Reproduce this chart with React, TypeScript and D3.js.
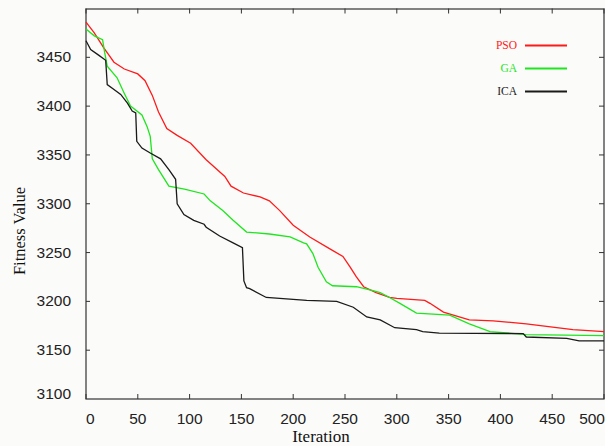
import React, { useRef, useEffect } from "react";
import * as d3 from "d3";

// axis ticks
const iterationTicks = [0, 50, 100, 150, 200, 250, 300, 350, 400, 450, 500];
const fitnessTicks = [3100, 3150, 3200, 3250, 3300, 3350, 3400, 3450];

// PSO convergence curve
const psoIter = [0, 8, 17, 27, 37, 50, 57, 64, 70, 78, 88, 101, 116, 134, 140, 152, 168, 177, 187, 200, 216, 235, 248, 255, 261, 268, 280, 293, 300, 327, 332, 345, 370, 393, 425, 470, 500];
const psoFit = [3486, 3475, 3460, 3445, 3438, 3433, 3426, 3411, 3394, 3377, 3370, 3362, 3345, 3328, 3318, 3311, 3307, 3303, 3293, 3278, 3266, 3254, 3246, 3235, 3225, 3215, 3209, 3204, 3203, 3201, 3198, 3189, 3181, 3180, 3177, 3171, 3169];

// GA convergence curve
const gaIter = [0, 8, 16, 18, 20.5, 30, 37, 43, 54, 59, 62, 64, 70, 80, 95, 114, 120, 132, 142, 155, 177, 197, 210, 213, 219, 224, 232, 238, 261, 277, 284, 293, 303, 319, 351, 370, 390, 425, 500];
const gaFit = [3479, 3472, 3468, 3455, 3441, 3429, 3413, 3400, 3391, 3379, 3369, 3346, 3335, 3318, 3315, 3310, 3303, 3293, 3283, 3271, 3269, 3266, 3260, 3259, 3249, 3235, 3220, 3216, 3215, 3211, 3209, 3204, 3198, 3188, 3186, 3177, 3169, 3166, 3165];

// ICA convergence curve
const icaIter = [0, 4.5, 12.5, 19, 20.5, 27, 33.5, 40, 44.6, 48, 49, 54, 62, 72, 80, 86.5, 88, 94.5, 104, 114, 116, 129, 142, 151, 152.4, 155, 158, 174, 213, 242, 258, 271, 284, 298, 319, 325, 341, 422, 425, 464, 476, 500];
const icaFit = [3467, 3458, 3452, 3447, 3422, 3417, 3412, 3403, 3395, 3393, 3364, 3357, 3352, 3346, 3335, 3325, 3300, 3289, 3283, 3279, 3276, 3267, 3260, 3255, 3221, 3214, 3213, 3204, 3201, 3200, 3194, 3184, 3181, 3173, 3171, 3169, 3167.5, 3167, 3163.5, 3162, 3159.5, 3159.5];

const seriesNames = ["PSO", "GA", "ICA"];

export default function App() {
  const ref = useRef<SVGSVGElement>(null);

  useEffect(() => {
    const width = 605;
    const height = 446;
    const left = 86, right = 604, top = 8.5, bottom = 399;

    const svg = d3.select(ref.current);
    svg.selectAll("*").remove();
    svg.attr("width", width).attr("height", height);

    svg.append("rect").attr("width", width).attr("height", height).attr("fill", "#fbfbf9");

    const x = d3.scaleLinear().domain([0, 500]).range([left, right]);
    const y = d3.scaleLinear().domain([3100, 3500]).range([bottom, top]);

    const series = [
      { name: seriesNames[0], iter: psoIter, fit: psoFit, color: "#ff1a1a" },
      { name: seriesNames[1], iter: gaIter, fit: gaFit, color: "#1ee61e" },
      { name: seriesNames[2], iter: icaIter, fit: icaFit, color: "#1a1a1a" },
    ];

    const line = d3
      .line<[number, number]>()
      .x((d) => x(d[0]))
      .y((d) => y(d[1]));

    // frame
    svg
      .append("rect")
      .attr("x", left)
      .attr("y", top + 0.5)
      .attr("width", right - left)
      .attr("height", bottom - top - 0.5)
      .attr("fill", "none")
      .attr("stroke", "#333")
      .attr("stroke-width", 1.2);

    // ticks (inward, on all four sides)
    const tk = svg.append("g").attr("stroke", "#333").attr("stroke-width", 1);
    iterationTicks.forEach((t) => {
      tk.append("line").attr("x1", x(t)).attr("x2", x(t)).attr("y1", bottom).attr("y2", bottom - 5);
      tk.append("line").attr("x1", x(t)).attr("x2", x(t)).attr("y1", top).attr("y2", top + 5);
    });
    fitnessTicks.slice(1).forEach((t) => {
      tk.append("line").attr("x1", left).attr("x2", left + 4).attr("y1", y(t)).attr("y2", y(t));
      tk.append("line").attr("x1", right).attr("x2", right - 5).attr("y1", y(t)).attr("y2", y(t));
    });

    const tickFont = "'Liberation Sans', Arial, sans-serif";

    svg
      .append("g")
      .selectAll("text")
      .data(iterationTicks)
      .enter()
      .append("text")
      .attr("x", (d, i) => (i === 0 ? x(d) : i === iterationTicks.length - 1 ? width : x(d)))
      .attr("y", 424)
      .attr("text-anchor", (d, i) => (i === 0 ? "start" : i === iterationTicks.length - 1 ? "end" : "middle"))
      .style("font-family", tickFont)
      .style("font-size", "15.5px")
      .style("fill", "#222")
      .text((d) => d);

    svg
      .append("g")
      .selectAll("text")
      .data(fitnessTicks)
      .enter()
      .append("text")
      .attr("x", 71)
      .attr("y", (d) => Math.min(y(d), 394) + 5)
      .attr("text-anchor", "end")
      .style("font-family", tickFont)
      .style("font-size", "15.5px")
      .style("fill", "#222")
      .text((d) => d);

    // axis titles
    const serif = "'Liberation Serif', 'Times New Roman', serif";
    svg
      .append("text")
      .attr("x", 321)
      .attr("y", 442)
      .attr("text-anchor", "middle")
      .style("font-family", serif)
      .style("font-size", "17px")
      .style("fill", "#111")
      .text("Iteration");

    svg
      .append("text")
      .attr("transform", "translate(25,231) rotate(-90)")
      .attr("text-anchor", "middle")
      .style("font-family", serif)
      .style("font-size", "16.5px")
      .style("fill", "#111")
      .text("Fitness Value");

    // curves
    svg
      .append("g")
      .selectAll("path")
      .data(series)
      .enter()
      .append("path")
      .attr("d", (s) => line(s.iter.map((v, i) => [v, s.fit[i]] as [number, number])))
      .attr("fill", "none")
      .attr("stroke", (s) => s.color)
      .attr("stroke-width", 1.3);

    // legend
    const lg = svg.append("g");
    series.forEach((s, i) => {
      const ly = 47 + i * 23;
      lg.append("text")
        .attr("x", 517)
        .attr("y", ly + 1.5)
        .attr("text-anchor", "end")
        .style("font-family", serif)
        .style("font-size", "11.5px")
        .style("fill", s.color)
        .text(s.name);
      lg.append("line")
        .attr("x1", 525)
        .attr("x2", 567)
        .attr("y1", ly - 1.5)
        .attr("y2", ly - 1.5)
        .attr("stroke", s.color)
        .attr("stroke-width", 2);
    });
  }, []);

  return (
    <div style={{ position: "absolute", left: 0, top: 0 }}>
      <svg ref={ref}></svg>
    </div>
  );
}
